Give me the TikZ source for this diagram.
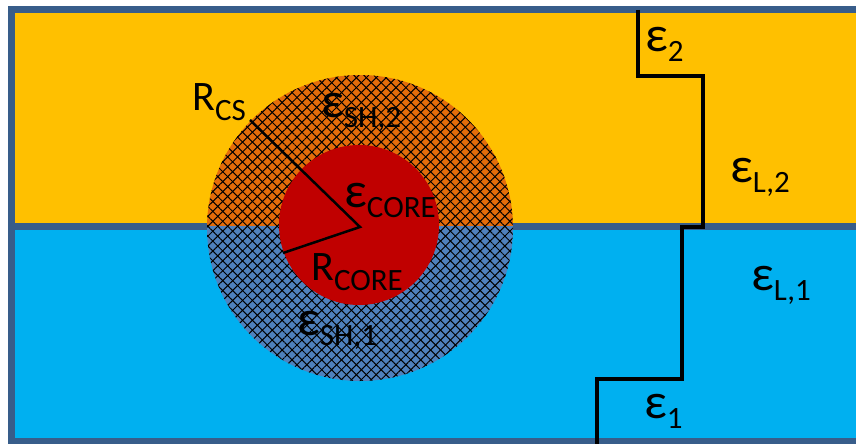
\documentclass[tikz,border=0pt]{standalone}
\usepackage{fontspec}
\setmainfont{Carlito}
\usepackage{tikz}
\usetikzlibrary{patterns.meta}

\definecolor{frameblue}{HTML}{385D8A}
\definecolor{upperyellow}{HTML}{FFC000}
\definecolor{lowerblue}{HTML}{00B0F0}
\definecolor{shellorange}{HTML}{E46C0A}
\definecolor{shellblue}{HTML}{4F81BD}
\definecolor{corered}{HTML}{C00000}

\newcommand{\epsn}{{\fontsize{50}{50}\selectfont ε}}
\newcommand{\Rn}{{\fontsize{42}{42}\selectfont R}}
\newcommand{\lowsub}[1]{\raisebox{-10pt}{\fontsize{31}{31}\selectfont #1}}

\begin{document}
\begin{tikzpicture}[x=1pt, y=-1pt,
  frameline/.style={draw=frameblue, line width=7pt},
  hatch/.style={pattern={Lines[angle=45, distance=7pt, line width=1pt]}, pattern color=black},
  hatchb/.style={pattern={Lines[angle=-45, distance=7pt, line width=1pt]}, pattern color=black},
  radius line/.style={draw=black, line width=2.5pt},
  step line/.style={draw=black, line width=3.5pt},
  every node/.style={inner sep=0pt, anchor=base west, text=black}]
  \useasboundingbox (0,0) rectangle (856,444);
  \clip (0,0) rectangle (856,444);
  % the two liquids
  \fill[upperyellow] (11.5,10) rectangle (880,226.5);
  \fill[lowerblue] (11.5,226.5) rectangle (880,441);
  \draw[frameline] (880,10) -- (11.5,10) -- (11.5,441) -- (880,441);
  \draw[frameline] (11.5,226.5) -- (880,226.5);
  % core-shell particle
  \begin{scope}
    \clip (0,0) rectangle (856,226.5);
    \fill[shellorange] (360,228) circle[radius=153];
    \fill[hatch] (360,228) circle[radius=153];
    \fill[hatchb] (360,228) circle[radius=153];
  \end{scope}
  \begin{scope}
    \clip (0,226.5) rectangle (856,444);
    \fill[shellblue] (360,228) circle[radius=153];
    \fill[hatch] (360,228) circle[radius=153];
    \fill[hatchb] (360,228) circle[radius=153];
  \end{scope}
  \fill[corered] (359,225) circle[radius=80];
  \coordinate (c) at (360,227);
  \coordinate (cs) at (250,120);
  \coordinate (cr) at (283,253);
  \draw[radius line] (cs) -- (c) -- (cr);
  % step profile
  \draw[step line] (638,10) -- (638,76) -- (703,76) -- (703,227) -- (682,227)
    -- (682,379) -- (597,379) -- (597,450);
  % labels
  \node (Rcs) at (192,110) {\Rn\lowsub{CS}};
  \node (esh2) at (321,117) {\epsn\lowsub{SH,2}};
  \node (ecore) at (344,207) {\epsn\lowsub{CORE}};
  \node (Rcore) at (311,280) {\Rn\lowsub{CORE}};
  \node (esh1) at (297,335) {\epsn\lowsub{SH,1}};
  \node (e2) at (645,52) {\epsn\lowsub{2}};
  \node (eL2) at (730,182) {\epsn\lowsub{L,2}};
  \node (eL1) at (751,290) {\epsn\lowsub{L,1}};
  \node (e1) at (644,418) {\epsn\lowsub{1}};
\end{tikzpicture}
\end{document}
